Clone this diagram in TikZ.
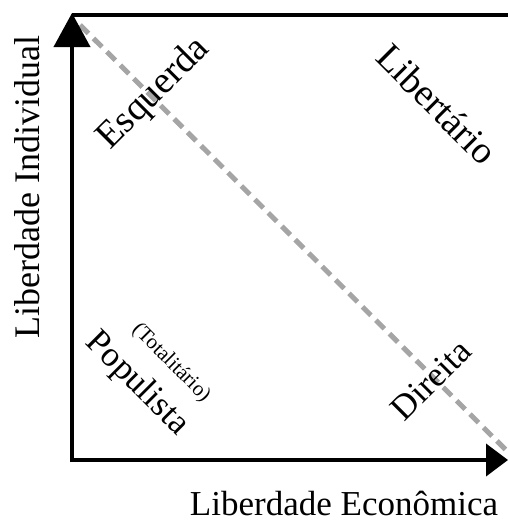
\documentclass[tikz,border=0pt]{standalone}
\usepackage{fontspec}
\setmainfont{Liberation Serif}
\usetikzlibrary{arrows.meta}
\begin{document}
\begin{tikzpicture}[x=1pt,y=-1pt,
  axis/.style={line width=4pt,black},
  divider/.style={line width=5pt,color={rgb,255:red,165;green,165;blue,165},dash pattern=on 12pt off 7pt},
  big/.style={font=\fontsize{35}{40}\selectfont,inner sep=0pt},
  bigger/.style={font=\fontsize{38}{42}\selectfont,inner sep=0pt},
  small/.style={font=\fontsize{21}{25}\selectfont,inner sep=0pt}]
\useasboundingbox (0,0) rectangle (508,523);
\coordinate (ytop) at (72,13);
\coordinate (xend) at (508,460);
\coordinate (tr) at (508,15);
\coordinate (dstart) at (80,25);
\coordinate (dend) at (508,452);
\draw[divider] (dstart) -- (dend);
\draw[axis] (72,15) -- (tr);
\draw[axis,-{Triangle[length=34pt,width=36pt]}] (72,462) -- (ytop);
\draw[axis,-{Triangle[length=22pt,width=32pt]}] (70,460) -- (xend);
\node[font=\fontsize{36}{40}\selectfont,inner sep=0pt,rotate=90] (ylab) at (27,187) {Liberdade Individual};
\node[big] (xlab) at (344,503) {Liberdade Econômica};
\node[bigger,rotate=45] (esq) at (154,94) {Esquerda};
\node[bigger,rotate=-45] (lib) at (437,104) {Libertário};
\node[big,rotate=-45] (pop) at (137,384) {Populista};
\node[small,rotate=-45] (tot) at (171,363) {(Totalitário)};
\node[big,rotate=45] (dir) at (431,380) {Direita};
\end{tikzpicture}
\end{document}
